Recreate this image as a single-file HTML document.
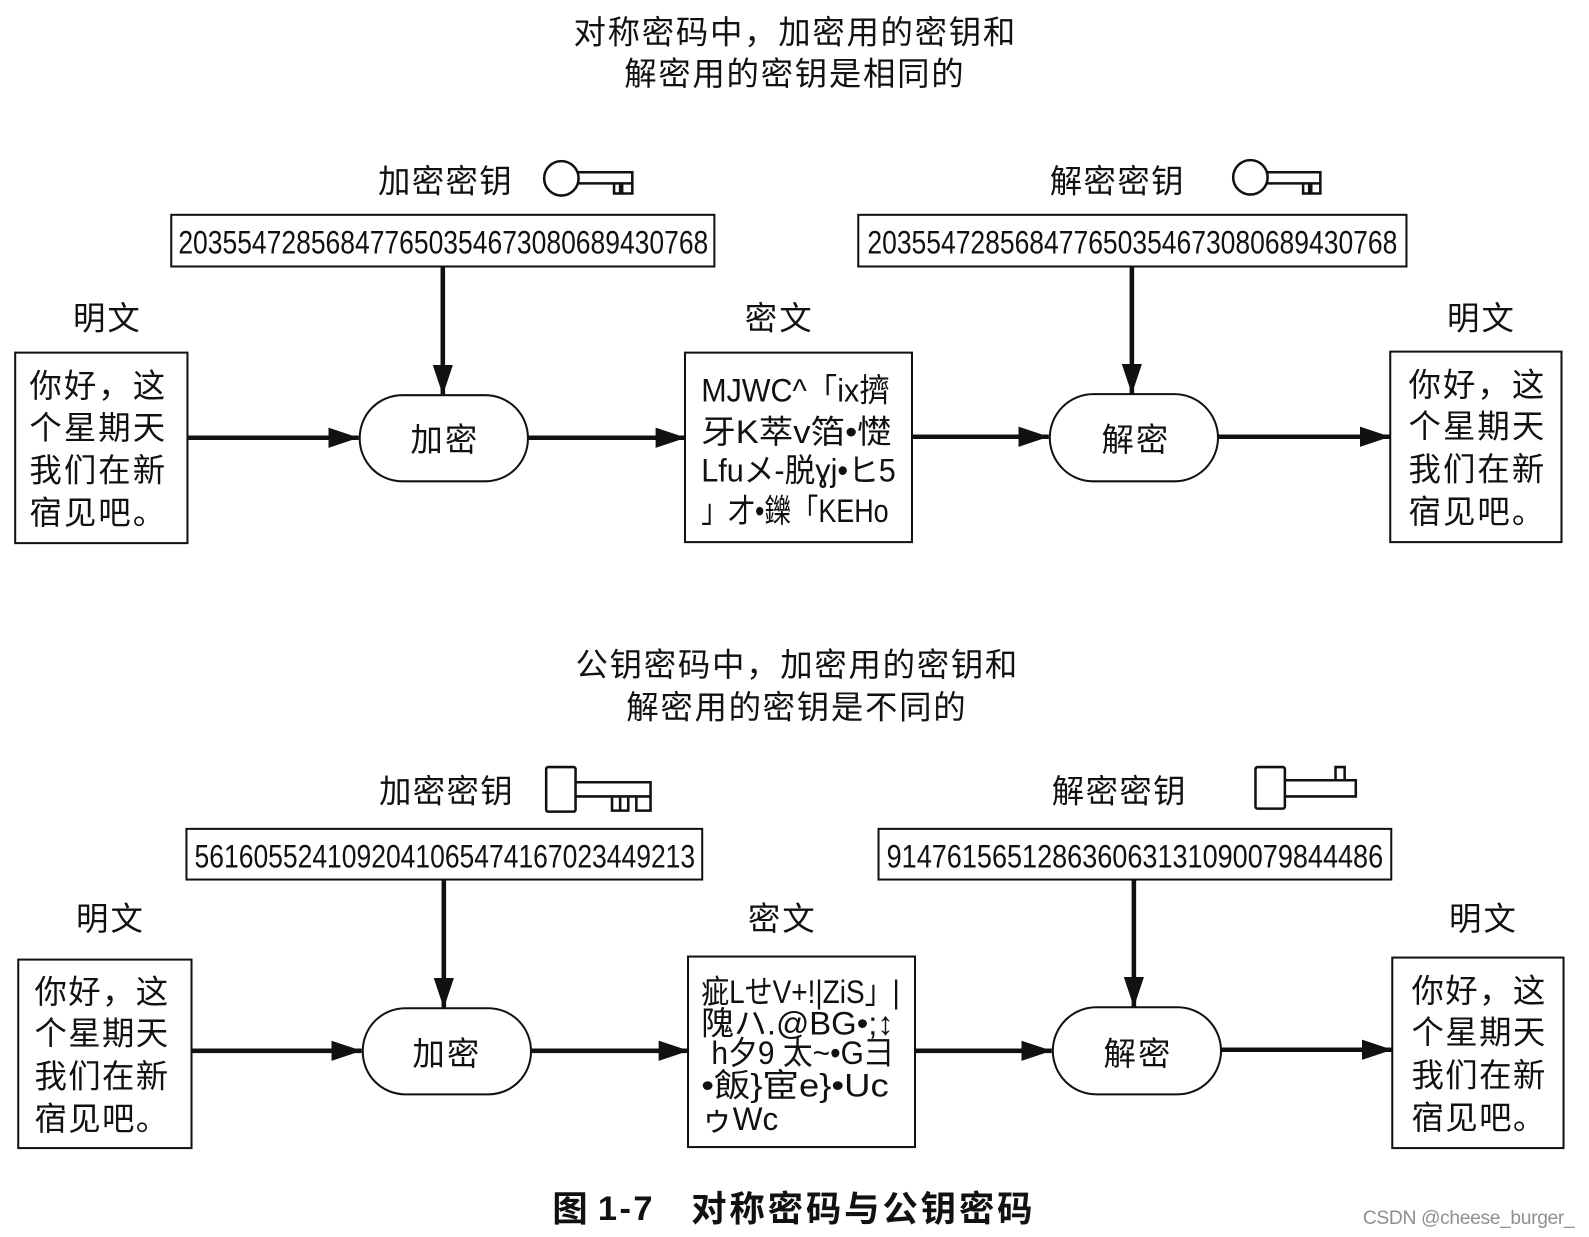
<!DOCTYPE html>
<html><head><meta charset="utf-8"><style>
html,body{margin:0;padding:0;background:#fff;width:1589px;height:1237px;overflow:hidden}
svg{display:block}
text{font-family:"Liberation Sans","Noto Sans CJK SC",sans-serif;fill:#111;font-size:32px}
.c{font-family:"WenQuanYi Zen Hei","Noto Sans CJK SC",sans-serif}
.b{fill:#fff;stroke:#111;stroke-width:2}
.t{stroke:#111;stroke-width:4.5;fill:none}
.k{fill:#fff;stroke:#111;stroke-width:2.5}
</style></head><body>
<svg width="1589" height="1237" viewBox="0 0 1589 1237" xmlns="http://www.w3.org/2000/svg">
<defs><marker id="a" markerUnits="userSpaceOnUse" markerWidth="32" markerHeight="22" refX="30" refY="11" orient="auto"><path d="M0 1L30 11L0 21Z" fill="#111"/></marker></defs>
<g transform="scale(1.0133)">
<text class="c" x="566" y="43" textLength="436">对称密码中，加密用的密钥和</text>
<text class="c" x="616" y="84" textLength="335">解密用的密钥是相同的</text>

<text class="c" x="373" y="190" textLength="132">加密密钥</text>
<text class="c" x="1036" y="190" textLength="132">解密密钥</text>
<path class="k" d="M570 170H624V181H570M606 181V191H612V181M614 181V191H624V181"/>
<circle class="k" cx="554" cy="176" r="17"/>
<path class="k" d="M1250 170H1303V181H1250M1286 181V191H1292V181M1294 181V191H1303V181"/>
<circle class="k" cx="1234" cy="175" r="17"/>
<rect class="b" x="169" y="212" width="536" height="51"/>
<rect class="b" x="847" y="212" width="541" height="51"/>
<text x="176" y="250" textLength="523" lengthAdjust="spacingAndGlyphs">203554728568477650354673080689430768</text>
<text x="856" y="250" textLength="523" lengthAdjust="spacingAndGlyphs">203554728568477650354673080689430768</text>

<text class="c" x="72" y="325" textLength="66">明文</text>
<text class="c" x="735" y="325" textLength="66">密文</text>
<text class="c" x="1428" y="325" textLength="66">明文</text>

<rect class="b" x="15" y="348" width="170" height="188"/>
<text class="c" x="29" y="392" textLength="134">你好，这</text>
<text class="c" x="29" y="433" textLength="134">个星期天</text>
<text class="c" x="29" y="475" textLength="134">我们在新</text>
<text class="c" x="29" y="517" textLength="134">宿见吧。</text>
<rect class="b" x="676" y="348" width="224" height="187"/>
<text x="692" y="396" textLength="186" lengthAdjust="spacingAndGlyphs">MJWC^「ix擠</text>
<text x="692" y="437" textLength="188" lengthAdjust="spacingAndGlyphs">牙K萃v箔•憷</text>
<text x="692" y="475" textLength="192" lengthAdjust="spacingAndGlyphs">Lfuメ-脱ɣj•ヒ5</text>
<text x="692" y="515" textLength="185" lengthAdjust="spacingAndGlyphs">」才•鑠「KEHo</text>
<rect class="b" x="1372" y="347" width="169" height="188"/>
<text class="c" x="1390" y="391" textLength="134">你好，这</text>
<text class="c" x="1390" y="432" textLength="134">个星期天</text>
<text class="c" x="1390" y="474" textLength="134">我们在新</text>
<text class="c" x="1390" y="516" textLength="134">宿见吧。</text>

<rect class="b" x="355" y="390" width="166" height="85" rx="42" ry="42"/>
<rect class="b" x="1036" y="389" width="166" height="86" rx="43" ry="43"/>
<text class="c" x="405" y="445" textLength="66">加密</text>
<text class="c" x="1087" y="445" textLength="66">解密</text>

<path class="t" d="M185 432H354" marker-end="url(#a)"/>
<path class="t" d="M521 432H677" marker-end="url(#a)"/>
<path class="t" d="M900 431H1035" marker-end="url(#a)"/>
<path class="t" d="M1202 431H1372" marker-end="url(#a)"/>
<path class="t" d="M437 263V390" marker-end="url(#a)"/>
<path class="t" d="M1117 263V389" marker-end="url(#a)"/>

<text class="c" x="568" y="667" textLength="436">公钥密码中，加密用的密钥和</text>
<text class="c" x="618" y="709" textLength="335">解密用的密钥是不同的</text>

<text class="c" x="374" y="792" textLength="132">加密密钥</text>
<text class="c" x="1038" y="792" textLength="132">解密密钥</text>
<path class="k" d="M568 772H642V786H568M604 786V800H612M620 786V800H612V786M628 786V800H642V786"/>
<rect class="k" x="539" y="757" width="29" height="44" rx="2"/>
<path class="k" d="M1268 770H1338V786H1268M1318 770V757H1327V770"/>
<rect class="k" x="1239" y="757" width="29" height="41" rx="2"/>
<rect class="b" x="184" y="818" width="509" height="50"/>
<rect class="b" x="867" y="818" width="506" height="50"/>
<text x="192" y="856" textLength="494" lengthAdjust="spacingAndGlyphs">5616055241092041065474167023449213</text>
<text x="875" y="856" textLength="490" lengthAdjust="spacingAndGlyphs">914761565128636063131090079844486</text>

<text class="c" x="75" y="918" textLength="66">明文</text>
<text class="c" x="738" y="918" textLength="66">密文</text>
<text class="c" x="1430" y="918" textLength="66">明文</text>

<rect class="b" x="18" y="947" width="171" height="186"/>
<text class="c" x="34" y="990" textLength="132">你好，这</text>
<text class="c" x="34" y="1031" textLength="132">个星期天</text>
<text class="c" x="34" y="1073" textLength="132">我们在新</text>
<text class="c" x="34" y="1115" textLength="132">宿见吧。</text>
<rect class="b" x="679" y="944" width="224" height="188"/>
<text x="692" y="990" textLength="196" lengthAdjust="spacingAndGlyphs">疵LせV+!|ZiS」|</text>
<text x="692" y="1021" textLength="190" lengthAdjust="spacingAndGlyphs">隗ハ.@BG•;↕</text>
<text x="702" y="1050" textLength="180" lengthAdjust="spacingAndGlyphs">h夕9 太~•G彐</text>
<text x="692" y="1082" textLength="185" lengthAdjust="spacingAndGlyphs">•飯}宦e}•Uc</text>
<text x="692" y="1115" textLength="76" lengthAdjust="spacingAndGlyphs">ゥWc</text>
<rect class="b" x="1374" y="945" width="169" height="188"/>
<text class="c" x="1393" y="989" textLength="132">你好，这</text>
<text class="c" x="1393" y="1030" textLength="132">个星期天</text>
<text class="c" x="1393" y="1072" textLength="132">我们在新</text>
<text class="c" x="1393" y="1114" textLength="132">宿见吧。</text>

<rect class="b" x="358" y="995" width="166" height="85" rx="42" ry="42"/>
<rect class="b" x="1039" y="994" width="166" height="86" rx="43" ry="43"/>
<text class="c" x="407" y="1051" textLength="66">加密</text>
<text class="c" x="1089" y="1051" textLength="66">解密</text>

<path class="t" d="M188 1037H357" marker-end="url(#a)"/>
<path class="t" d="M524 1037H680" marker-end="url(#a)"/>
<path class="t" d="M903 1037H1038" marker-end="url(#a)"/>
<path class="t" d="M1205 1036H1374" marker-end="url(#a)"/>
<path class="t" d="M438 868V995" marker-end="url(#a)"/>
<path class="t" d="M1119 868V994" marker-end="url(#a)"/>

<text class="c" x="545" y="1205" style="font-size:35px;font-weight:700">图</text>
<text x="590" y="1204" style="font-size:34px;font-weight:700" textLength="54">1-7</text>
<text class="c" x="682" y="1205" style="font-size:35px;font-weight:700" textLength="337">对称密码与公钥密码</text>
<text x="1345" y="1208" style="font-size:19px;fill:#8f8f8f" textLength="209">CSDN @cheese_burger_</text>
</g>
</svg>
</body></html>
